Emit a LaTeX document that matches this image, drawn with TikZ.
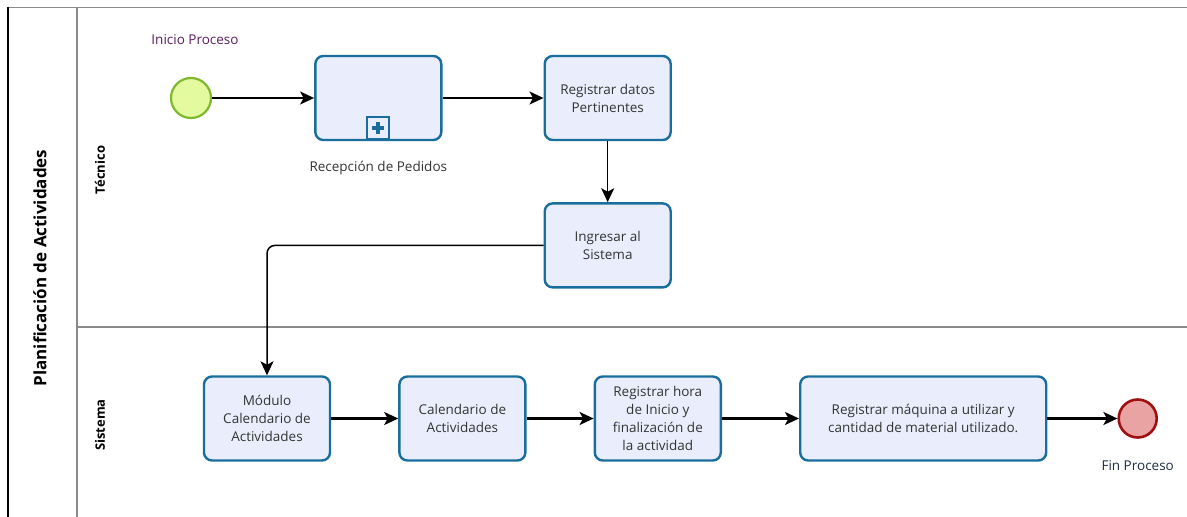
\documentclass[tikz,border=0pt]{standalone}
\usepackage{fontspec}
\setmainfont{Open Sans}
\usetikzlibrary{arrows.meta,positioning}
\definecolor{cTask}{HTML}{1A6E9E}
\definecolor{cTaskFill}{HTML}{EAEEFC}
\definecolor{cStart}{HTML}{7DB82E}
\definecolor{cStartFill}{HTML}{E4FA9E}
\definecolor{cEnd}{HTML}{A01010}
\definecolor{cEndFill}{HTML}{EAA3A3}
\definecolor{cLane}{HTML}{8A8A8A}
\definecolor{cInk}{HTML}{333333}
\definecolor{cStartTxt}{HTML}{5B1A5E}
\definecolor{cEndTxt}{HTML}{1E2A44}
\tikzset{
  task/.style    = {draw=cTask, fill=cTaskFill, line width=2.4pt, rounded corners=8pt,
                    minimum width=126pt, minimum height=84pt, align=center,
                    inner sep=3pt, font=\fontsize{13.5}{18}\selectfont, text=cInk},
  submark/.style = {draw=cTask, fill=cTaskFill, line width=2pt,
                    minimum size=22pt, inner sep=0pt},
  startev/.style = {circle, draw=cStart, fill=cStartFill, line width=2.2pt,
                    minimum size=40pt, inner sep=0pt},
  endev/.style   = {circle, draw=cEnd, fill=cEndFill, line width=2.6pt,
                    minimum size=38pt, inner sep=0pt},
  evlabel/.style = {font=\fontsize{13.5}{18}\selectfont},
  flow/.style    = {-{Stealth[length=14pt, width=13pt, inset=3.5pt]}, line width=1.5pt},
  flowb/.style   = {flow, line width=2.2pt},
  lanetext/.style= {rotate=90, font=\bfseries\fontsize{13}{15}\selectfont},
  pooltext/.style= {rotate=90, font=\bfseries\fontsize{17}{20}\selectfont},
}
\begin{document}
\begin{tikzpicture}[x=1pt, y=-1pt]
  \useasboundingbox (0,0) rectangle (1187,517);
  % pool and lanes
  \draw[cLane, line width=1pt] (8,7) -- (1187,7);
  \draw[black, line width=1.4pt] (8,7) -- (8,517);
  \draw[cLane, line width=2pt] (77,7) -- (77,517);
  \draw[cLane, line width=1.4pt] (77,327) -- (1187,327);
  \node[pooltext] (pool) at (40,268) {Planificación de Actividades};
  \node[lanetext] (lane1) at (100,170) {Técnico};
  \node[lanetext] (lane2) at (100,425) {Sistema};

  % Tecnico
  \node[startev] (start) at (191,98) {};
  \node[evlabel, text=cStartTxt] (startlbl) at (195,40) {Inicio Proceso};
  \node[task, right=102pt of start] (recep) {};
  \node[submark, above=1pt of recep.south] (mark) {};
  \draw[cTask, line width=4pt] ([xshift=-6pt]mark.center) -- ([xshift=6pt]mark.center)
                               ([yshift=-6pt]mark.center) -- ([yshift=6pt]mark.center);
  \node[evlabel, text=cInk, below=16pt of recep] (receplbl) {Recepción de Pedidos};
  \node[task, right=101pt of recep] (datos) {Registrar datos\\Pertinentes};
  \node[task, below=61pt of datos] (ingresar) {Ingresar al\\Sistema};

  % Sistema
  \node[task] (modulo) at (267,418.5) {Módulo\\Calendario de\\Actividades};
  \node[task, right=67pt of modulo] (calend) {Calendario de\\Actividades};
  \node[task, right=67pt of calend] (hora) {Registrar hora\\de Inicio y\\finalización de\\la actividad};
  \node[task, right=77pt of hora, minimum width=246pt] (maquina)
    {Registrar máquina a utilizar y\\cantidad de material utilizado.};
  \node[endev, right=70pt of maquina] (fin) {};
  \node[evlabel, text=cEndTxt, below=18pt of fin] (finlbl) {Fin Proceso};

  % flows
  \draw[flow] (start) -- (recep);
  \draw[flow] (recep) -- (datos);
  \draw[flow] (datos) -- (ingresar);
  \draw[flow, rounded corners=8pt] (ingresar.west) -| (modulo.north);
  \draw[flowb] (modulo) -- (calend);
  \draw[flowb] (calend) -- (hora);
  \draw[flowb] (hora) -- (maquina);
  \draw[flowb] (maquina) -- (fin);
\end{tikzpicture}
\end{document}
